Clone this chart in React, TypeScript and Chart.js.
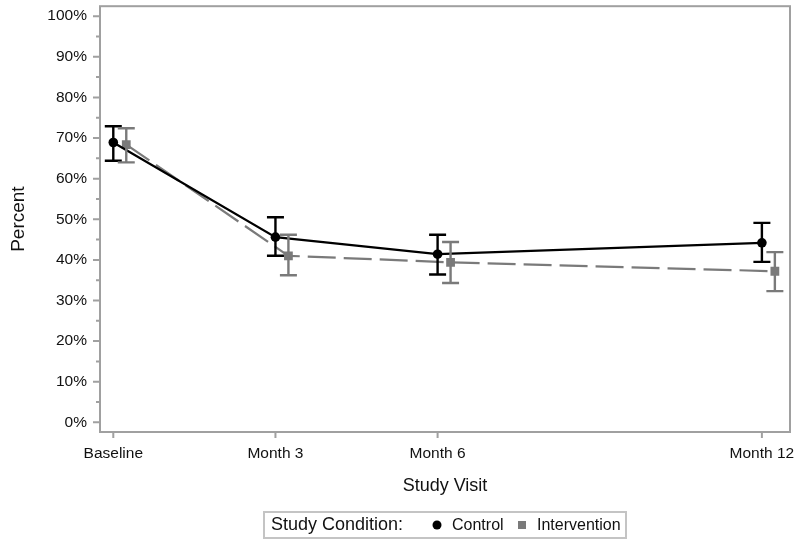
import React, { useEffect, useRef } from "react";
import { Chart, registerables } from "chart.js";

Chart.register(...registerables);

// ---- data ----
const visitLabels = ["Baseline", "Month 3", "Month 6", "Month 12"];
const visitMonths = [0, 3, 6, 12];
const interventionOffset = 0.24;

const controlPct = [68.9, 45.6, 41.4, 44.2];
const controlLower = [64.4, 41.0, 36.4, 39.5];
const controlUpper = [72.9, 50.5, 46.2, 49.1];

const interventionPct = [68.4, 41.0, 39.4, 37.2];
const interventionLower = [64.0, 36.2, 34.3, 32.3];
const interventionUpper = [72.4, 46.2, 44.4, 41.9];

const yTicks = [0, 10, 20, 30, 40, 50, 60, 70, 80, 90, 100];
const yMinorTicks = [5, 15, 25, 35, 45, 55, 65, 75, 85, 95];

const legendTitle = "Study Condition:";
const seriesNames = ["Control", "Intervention"];

const FONT = "'Liberation Sans', Arial, Helvetica, sans-serif";
const TEXT = "#111111";
const FRAME = "#a0a0a0";
const CONTROL_COLOR = "#000000";
const INTERVENTION_COLOR = "#7a7a7a";

const errorBarPlugin = {
  id: "errorBars",
  afterDatasetsDraw(chart: any) {
    const ctx = chart.ctx;
    const xs = chart.scales.x;
    const ys = chart.scales.y;
    const sets = [
      { off: 0, lo: controlLower, hi: controlUpper, color: CONTROL_COLOR },
      { off: interventionOffset, lo: interventionLower, hi: interventionUpper, color: INTERVENTION_COLOR },
    ];
    ctx.save();
    ctx.lineWidth = 2.4;
    sets.forEach((s) => {
      ctx.strokeStyle = s.color;
      visitMonths.forEach((m, i) => {
        const x = xs.getPixelForValue(m + s.off);
        const y1 = ys.getPixelForValue(s.lo[i]);
        const y2 = ys.getPixelForValue(s.hi[i]);
        ctx.beginPath();
        ctx.moveTo(x, y1);
        ctx.lineTo(x, y2);
        ctx.moveTo(x - 8.5, y1);
        ctx.lineTo(x + 8.5, y1);
        ctx.moveTo(x - 8.5, y2);
        ctx.lineTo(x + 8.5, y2);
        ctx.stroke();
      });
    });
    ctx.restore();
  },
};

const framePlugin = {
  id: "frameTicks",
  afterDraw(chart: any) {
    const ctx = chart.ctx;
    const { left, right, top, bottom } = chart.chartArea;
    const xs = chart.scales.x;
    const ys = chart.scales.y;
    ctx.save();
    ctx.strokeStyle = FRAME;
    ctx.lineWidth = 2;
    ctx.strokeRect(left, top, right - left, bottom - top);
    ctx.beginPath();
    yTicks.forEach((v) => {
      const y = ys.getPixelForValue(v);
      ctx.moveTo(left - 7, y);
      ctx.lineTo(left, y);
    });
    yMinorTicks.forEach((v) => {
      const y = ys.getPixelForValue(v);
      ctx.moveTo(left - 4, y);
      ctx.lineTo(left, y);
    });
    visitMonths.forEach((m) => {
      const x = xs.getPixelForValue(m);
      ctx.moveTo(x, bottom);
      ctx.lineTo(x, bottom + 6);
    });
    ctx.stroke();

    // legend
    const bx = 264, by = 512, bw = 362, bh = 26;
    ctx.lineWidth = 2;
    ctx.strokeStyle = "#c4c4c4";
    ctx.strokeRect(bx, by, bw, bh);
    ctx.fillStyle = TEXT;
    ctx.textBaseline = "middle";
    ctx.textAlign = "left";
    const cy = by + bh / 2 + 0.5;
    ctx.font = `18px ${FONT}`;
    ctx.fillText(legendTitle, 271, cy);
    ctx.beginPath();
    ctx.fillStyle = CONTROL_COLOR;
    ctx.arc(437, cy - 0.5, 4.5, 0, Math.PI * 2);
    ctx.fill();
    ctx.fillStyle = TEXT;
    ctx.font = `16px ${FONT}`;
    ctx.fillText(seriesNames[0], 452, cy);
    ctx.fillStyle = INTERVENTION_COLOR;
    ctx.fillRect(522 - 4, cy - 4.5, 8, 8);
    ctx.fillStyle = TEXT;
    ctx.fillText(seriesNames[1], 537, cy);
    ctx.restore();
  },
};

export default function App() {
  const ref = useRef<HTMLCanvasElement | null>(null);
  useEffect(() => {
    if (!ref.current) return;
    const chart = new Chart(ref.current, {
      type: "line",
      data: {
        datasets: [
          {
            label: seriesNames[0],
            data: visitMonths.map((m, i) => ({ x: m, y: controlPct[i] })),
            borderColor: CONTROL_COLOR,
            backgroundColor: CONTROL_COLOR,
            borderWidth: 2.2,
            pointStyle: "circle",
            pointRadius: 4.8,
            pointBorderWidth: 0,
            tension: 0,
          },
          {
            label: seriesNames[1],
            data: visitMonths.map((m, i) => ({ x: m + interventionOffset, y: interventionPct[i] })),
            borderColor: INTERVENTION_COLOR,
            backgroundColor: INTERVENTION_COLOR,
            borderWidth: 2.2,
            borderDash: [28, 8],
            pointStyle: "rect",
            pointRadius: 6.2,
            pointBorderWidth: 0,
            tension: 0,
          },
        ],
      },
      options: {
        responsive: false,
        animation: false,
        layout: { padding: { left: 3, right: 10, top: 5, bottom: 42 } },
        plugins: { legend: { display: false }, tooltip: { enabled: false } },
        scales: {
          x: {
            type: "linear",
            min: -0.246,
            max: 12.52,
            grid: { display: false, drawTicks: false },
            border: { display: false },
            afterBuildTicks: (s: any) => {
              s.ticks = visitMonths.map((v) => ({ value: v }));
            },
            afterFit: (s: any) => {
              s.height = 69;
              s.paddingLeft = 0;
              s.paddingRight = 0;
            },
            ticks: {
              autoSkip: false,
              maxRotation: 0,
              padding: 12,
              color: TEXT,
              font: { family: FONT, size: 15.5 },
              callback: (v: any) => {
                const idx = visitMonths.indexOf(Number(v));
                return idx >= 0 ? visitLabels[idx] : "";
              },
            },
            title: {
              display: true,
              text: "Study Visit",
              color: TEXT,
              font: { family: FONT, size: 18 },
              padding: { top: 4, bottom: 4 },
            },
          },
          y: {
            type: "linear",
            min: -2.38,
            max: 102.46,
            grid: { display: false, drawTicks: false },
            border: { display: false },
            afterBuildTicks: (s: any) => {
              s.ticks = yTicks.map((v) => ({ value: v }));
            },
            afterFit: (s: any) => {
              s.width = 97;
              s.paddingTop = 0;
              s.paddingBottom = 0;
            },
            ticks: {
              autoSkip: false,
              padding: 13,
              color: TEXT,
              font: { family: FONT, size: 15.5 },
              callback: (v: any) => `${v}%`,
            },
            title: {
              display: true,
              text: "Percent",
              color: TEXT,
              font: { family: FONT, size: 19 },
              padding: { top: 4, bottom: 4 },
            },
          },
        },
      },
      plugins: [errorBarPlugin, framePlugin],
    } as any);
    return () => chart.destroy();
  }, []);
  return (
    <div style={{ position: "fixed", left: 0, top: 0, width: 800, height: 543, background: "#fff" }}>
      <canvas ref={ref} width={800} height={543} style={{ display: "block" }} />
    </div>
  );
}
